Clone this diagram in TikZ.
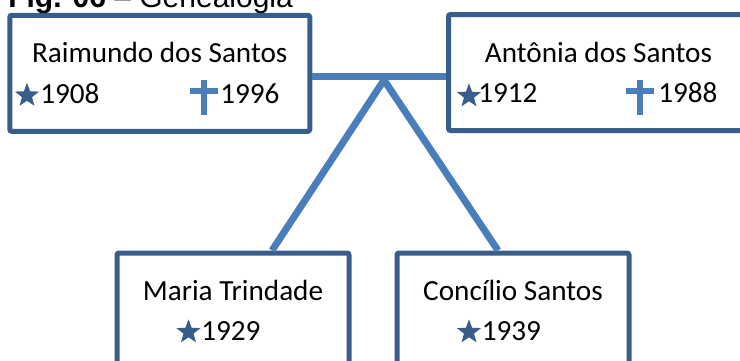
\documentclass[tikz,border=0pt]{standalone}
\usepackage{fontspec}
\setmainfont{Carlito}
\newfontfamily\arialfont{Liberation Sans}
\usetikzlibrary{shapes.geometric}
\usetikzlibrary{positioning}
\definecolor{boxblue}{HTML}{385D8A}
\definecolor{lineblue}{HTML}{4A7EBB}

\begin{document}
\begin{tikzpicture}[x=0.75pt, y=-0.75pt]
    \tikzset{Person/.style={rectangle, draw=boxblue, line width=3.75pt, rounded corners=1.5pt, minimum width=225pt, minimum height=87pt}};
    \tikzset{Child/.style={Person, minimum width=174pt}};
    \tikzset{Name/.style={anchor=base, inner sep=0pt, font=\fontsize{21.9}{24}\selectfont}};
    \tikzset{Year/.style={anchor=base west, inner sep=0pt, font=\fontsize{21.9}{24}\selectfont}};
    \tikzset{Born/.style={star, star points=5, star point ratio=2.4, fill=boxblue, inner sep=0pt, minimum size=19pt}};
    \tikzset{Died/.pic={\draw[lineblue, line width=4.5pt] (0,-11) -- (0,24) (-14,0) -- (14,0);}};
    \tikzset{Link/.style={lineblue, line width=5.25pt}};

    \useasboundingbox (0,0) rectangle (740,361);
    \clip (0,0) rectangle (740,361);

    \node[anchor=base west, inner sep=0pt, font=\arialfont\fontsize{22.5}{26}\selectfont] (title) at (8,7) {\textbf{Fig. 06} – Genealogia};

    \node[Person](rbox) at (159.75,73.25) {};
    \node[Person](abox) at (598.5,72.5) {};
    \node[Child](mbox) at (233,311) {};
    \node[Child](cbox) at (513,311) {};

    \node[Name](rname) at ([yshift=7.7pt]rbox.center) {Raimundo dos Santos};
    \node[Name](aname) at ([yshift=7.7pt]abox.center) {Antônia dos Santos};
    \node[Name](mname) at ([yshift=7.7pt]mbox.center) {Maria Trindade};
    \node[Name](cname) at ([yshift=7.7pt]cbox.center) {Concílio Santos};

    \node[Born](rborn) at (27,95.5) {};
    \node[Year](rbirth) at (40,103) {1908};
    \pic at (204,91) {Died};
    \node[Year](rdeath) at (220,103) {1996};

    \node[Born](aborn) at (469,96) {};
    \node[Year](abirth) at (478,102.5) {1912};
    \pic at (639.5,91) {Died};
    \node[Year](adeath) at (658,102.5) {1988};

    \node[Born](mborn) at (188.5,332) {};
    \node[Year](mbirth) at (201,340.5) {1929};
    \node[Born](cborn) at (469,332) {};
    \node[Year](cbirth) at (481.5,340.5) {1939};

    \coordinate (knot) at (384,76);
    \draw[Link] (rbox.east |- knot) -- (abox.west |- knot);
    \draw[Link, miter limit=10] ([xshift=29.25pt]mbox.north) -- ([yshift=-3pt]knot) -- ([xshift=-11.25pt]cbox.north);
\end{tikzpicture}
\end{document}
